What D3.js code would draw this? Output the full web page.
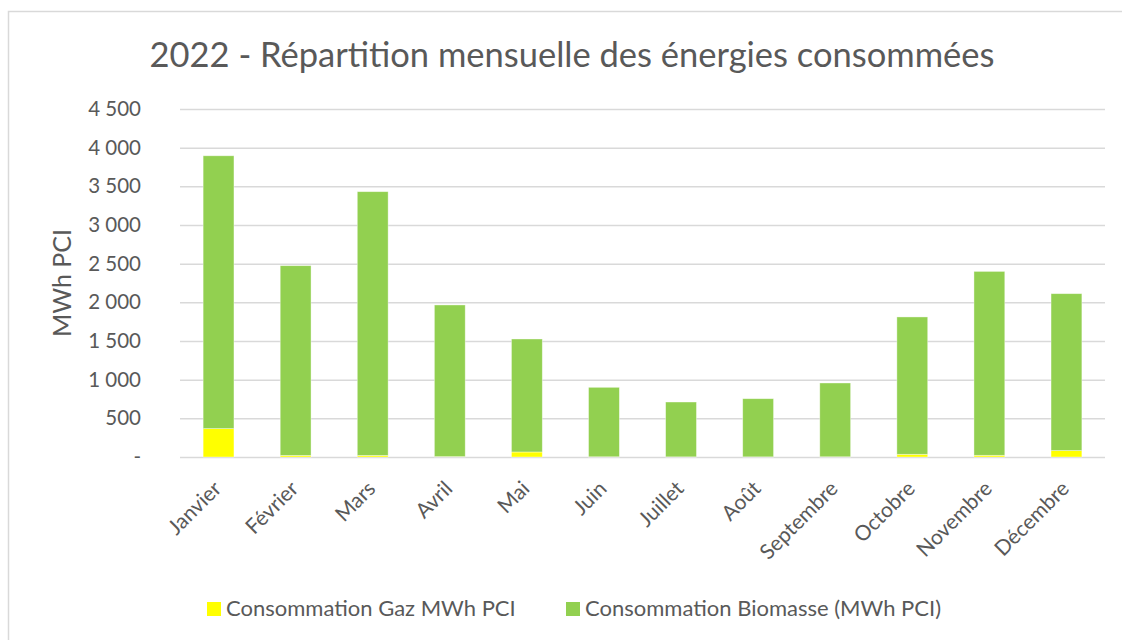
<!DOCTYPE html>
<html>
<head>
<meta charset="utf-8">
<script src="https://cdn.jsdelivr.net/npm/d3@7"></script>
<style>
  body { margin: 0; background: #fff; }
  svg { display: block; font-family: Lato, "Open Sans", sans-serif; }
</style>
</head>
<body>
<svg id="chart" width="1122" height="640"></svg>
<script>
// data
const months = ['Janvier', 'Février', 'Mars', 'Avril', 'Mai', 'Juin', 'Juillet', 'Août',
  'Septembre', 'Octobre', 'Novembre', 'Décembre'];
const gaz = [367, 20, 20, 5, 65, 3, 2, 2, 3, 35, 22, 83];
const biomasse = [3528, 2454, 3411, 1961, 1461, 898, 709, 752, 954, 1776, 2378, 2029];
const yTicks = [0, 500, 1000, 1500, 2000, 2500, 3000, 3500, 4000, 4500];
const seriesNames = ['Consommation Gaz MWh PCI', 'Consommation Biomasse (MWh PCI)'];
const colors = ['#FFFF00', '#92D050'];

const width = 1122;
const height = 640;
const plot = {left: 180, right: 1105, top: 109, bottom: 457};
const textColor = '#595959';

const svg = d3.select('#chart');

// chart frame
svg.append('rect')
  .attr('x', 8.5).attr('y', 11.5)
  .attr('width', width + 20).attr('height', height + 20)
  .attr('fill', '#fff')
  .attr('stroke', '#d9d9d9')
  .attr('stroke-width', 1.5);

const x = d3.scaleBand()
  .domain(months)
  .range([plot.left, plot.right])
  .paddingInner(0.6)
  .paddingOuter(0.3);

const y = d3.scaleLinear()
  .domain([0, 4500])
  .range([plot.bottom, plot.top]);

const fr = d3.formatLocale({decimal: ',', thousands: ' ', grouping: [3], currency: ['', ' €']});
const fmt = v => v === 0 ? '-' : fr.format(',')(v);

// gridlines + y labels
const yAxis = d3.axisLeft(y)
  .tickValues(yTicks)
  .tickSize(-(plot.right - plot.left))
  .tickPadding(39)
  .tickFormat(fmt);

const gy = svg.append('g')
  .attr('transform', `translate(${plot.left},0)`)
  .call(yAxis);
gy.select('.domain').remove();
gy.selectAll('.tick line').attr('stroke', '#d9d9d9').attr('stroke-width', 1.5);
gy.selectAll('.tick text')
  .attr('fill', textColor)
  .style('font-size', '20.5px')
  .style('font-family', 'Lato, sans-serif');

// stacked bars
const rows = months.map((m, i) => ({month: m, gaz: gaz[i], biomasse: biomasse[i]}));
const stack = d3.stack().keys(['gaz', 'biomasse'])(rows);

svg.append('g')
  .selectAll('g')
  .data(stack)
  .join('g')
  .attr('fill', (d, i) => colors[i])
  .selectAll('rect')
  .data(d => d)
  .join('rect')
  .attr('x', d => x(d.data.month))
  .attr('y', d => y(d[1]))
  .attr('width', x.bandwidth())
  .attr('height', d => y(d[0]) - y(d[1]))
  .attr('stroke', 'rgba(255,255,255,0.5)')
  .attr('stroke-width', 0.75);

// x labels
const xAxis = d3.axisBottom(x).tickSize(0).tickPadding(0);
const gx = svg.append('g')
  .attr('transform', `translate(0,${plot.bottom})`)
  .call(xAxis);
gx.select('.domain').remove();
gx.selectAll('.tick text')
  .attr('fill', textColor)
  .style('font-size', '21px')
  .style('font-family', 'Lato, sans-serif')
  .attr('text-anchor', 'end')
  .attr('dy', null)
  .attr('y', null)
  .attr('transform', 'translate(4,33) rotate(-45)');

// y axis title
svg.append('text')
  .attr('transform', `translate(71,${(plot.top + plot.bottom) / 2}) rotate(-90)`)
  .attr('text-anchor', 'middle')
  .attr('fill', textColor)
  .style('font-size', '25px')
  .text('MWh PCI');

// title
svg.append('text')
  .attr('x', 572)
  .attr('y', 67)
  .attr('text-anchor', 'middle')
  .attr('fill', textColor)
  .style('font-size', '34.5px')
  .text('2022 - Répartition mensuelle des énergies consommées');

// legend
const legendX = [207, 566];
const legend = svg.append('g')
  .selectAll('g')
  .data(seriesNames)
  .join('g')
  .attr('transform', (d, i) => `translate(${legendX[i]},602)`);

legend.append('rect')
  .attr('width', 14).attr('height', 14)
  .attr('fill', (d, i) => colors[i]);

legend.append('text')
  .attr('x', 19)
  .attr('y', 14)
  .attr('fill', textColor)
  .style('font-size', '22px')
  .text(d => d);
</script>
</body>
</html>
